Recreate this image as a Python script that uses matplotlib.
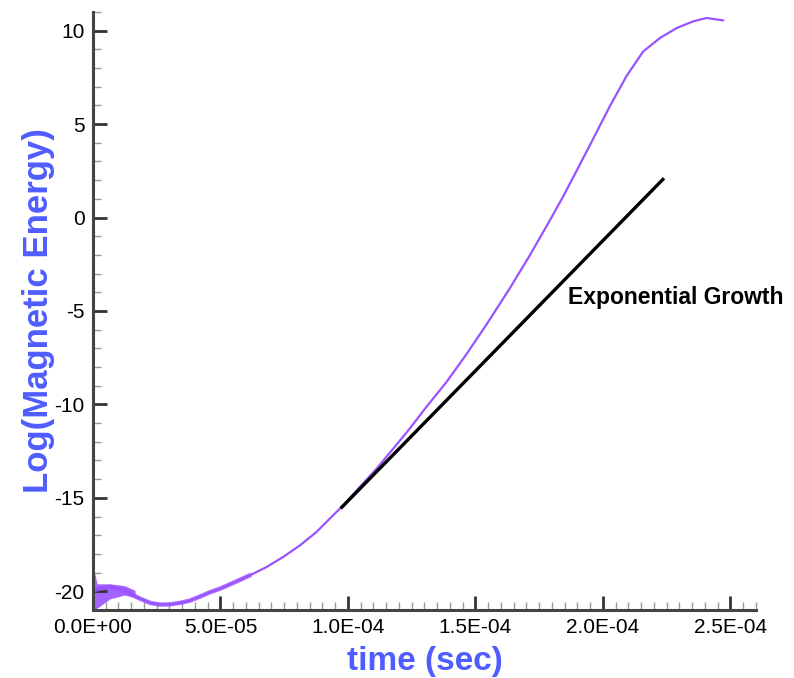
import matplotlib.pyplot as plt
import numpy as np
from matplotlib.ticker import MultipleLocator, FuncFormatter

# magnetic energy history
time = [0.0, 2.7e-6, 6.7e-6, 1.06e-5, 1.45e-5, 1.84e-5, 2.24e-5, 2.63e-5, 3.02e-5,
        3.41e-5, 3.80e-5, 4.20e-5, 4.59e-5, 4.98e-5, 5.45e-5, 6.16e-5, 6.81e-5,
        7.46e-5, 8.12e-5, 8.77e-5, 9.42e-5, 9.82e-5, 1.047e-4, 1.113e-4, 1.178e-4,
        1.243e-4, 1.305e-4, 1.387e-4, 1.466e-4, 1.545e-4, 1.635e-4, 1.712e-4,
        1.792e-4, 1.845e-4, 1.910e-4, 1.962e-4, 2.028e-4, 2.093e-4, 2.158e-4,
        2.224e-4, 2.289e-4, 2.354e-4, 2.407e-4, 2.472e-4]
log_energy = [-19.95, -19.86, -19.77, -19.86, -20.12, -20.39, -20.62, -20.71, -20.70,
              -20.62, -20.50, -20.28, -20.05, -19.86, -19.58, -19.14, -18.70,
              -18.16, -17.54, -16.82, -15.93, -15.39, -14.41, -13.43, -12.36,
              -11.28, -10.18, -8.79, -7.29, -5.69, -3.78, -2.05,
              -0.15, 1.15, 2.85, 4.22, 5.98, 7.58, 8.89,
              9.61, 10.14, 10.50, 10.68, 10.55]

# noisy start of the run (envelope)
band_t = [0.0, 1.6e-6, 6.7e-6, 1.25e-5, 1.65e-5]
band_lo = [-21.0, -20.9, -20.4, -20.2, -20.35]
band_hi = [-18.6, -19.6, -19.6, -19.7, -19.95]

# fitted exponential growth
fit_t = [9.76e-5, 2.235e-4]
fit_y = [-15.5, 2.04]

purple = "#9a52ff"
blue = "#4f5cff"

plt.rcParams['font.family'] = ['Liberation Sans', 'DejaVu Sans']
plt.rcParams['axes.unicode_minus'] = False

fig = plt.figure(figsize=(7.94, 6.78), dpi=100)
ax = fig.add_axes([0.1171, 0.1003, 0.952 - 0.1171, 0.9823 - 0.1003])

ax.fill_between(band_t, band_lo, band_hi, color=purple, lw=0, alpha=0.9)
ax.plot(time, log_energy, color=purple, lw=1.6, solid_capstyle="round")
ax.plot(time[:16], log_energy[:16], color=purple, lw=3.2, alpha=0.8,
        solid_capstyle="round")
ax.plot(fit_t, fit_y, color="black", lw=2.4)

ax.text(1.863e-4, -4.28, "Exponential Growth", fontsize=16.5, fontweight="bold",
        ha="left", va="center")

ax.set_xlim(0, 2.6e-4)
ax.set_ylim(-21, 11)

for s in ["top", "right"]:
    ax.spines[s].set_visible(False)
for s in ["left", "bottom"]:
    ax.spines[s].set_linewidth(2.2)
    ax.spines[s].set_color("#444444")

ax.xaxis.set_major_locator(MultipleLocator(5e-5))
ax.xaxis.set_minor_locator(MultipleLocator(5e-6))
ax.yaxis.set_major_locator(MultipleLocator(5))
ax.yaxis.set_minor_locator(MultipleLocator(1))


def sci_fmt(v, pos):
    if abs(v) < 1e-12:
        return "0.0E+00"
    return f"{v:.1E}"


ax.xaxis.set_major_formatter(FuncFormatter(sci_fmt))

ax.tick_params(which="major", direction="in", length=10, width=2, color="#333333",
               labelsize=15, pad=6)
ax.tick_params(which="minor", direction="in", length=6, width=1, color="#999999")

ax.set_xlabel("time (sec)", fontsize=24, fontweight="bold", color=blue, labelpad=6)
ax.set_ylabel("Log(Magnetic Energy)", fontsize=25, fontweight="bold", color=blue)
ax.yaxis.set_label_coords(-0.058, 0.5)

fig.savefig("out.png", dpi=100)
